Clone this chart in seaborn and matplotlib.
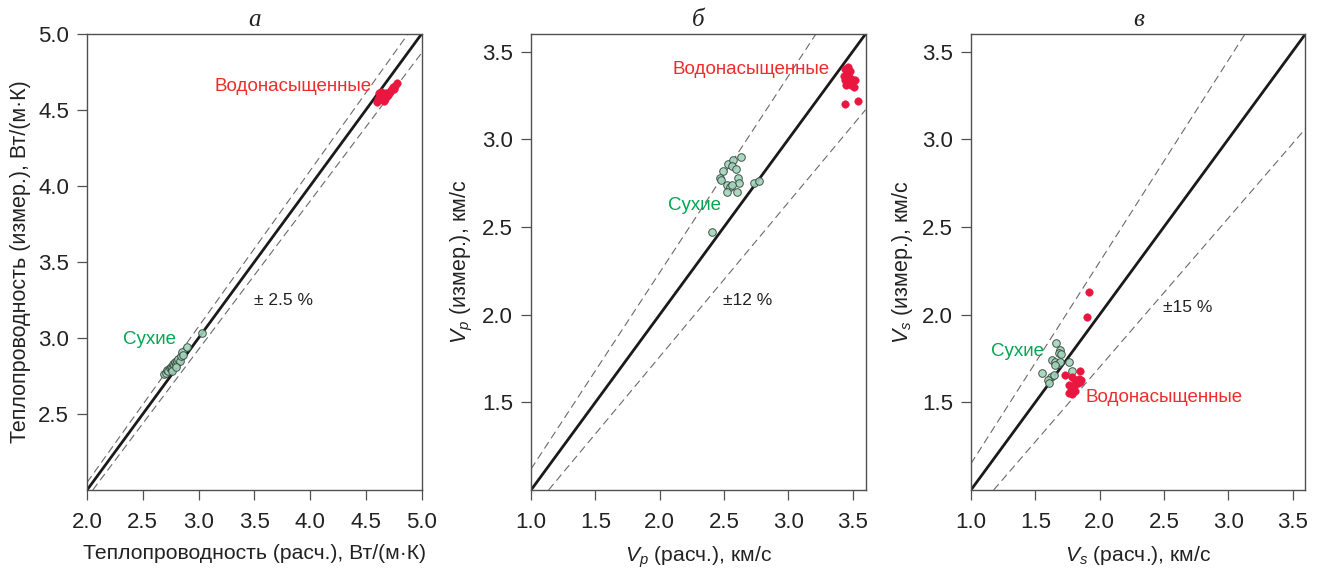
import matplotlib
matplotlib.use('Agg')
import matplotlib.pyplot as plt
import seaborn as sns
import pandas as pd

# (a) thermal conductivity, W/(m*K)
tc_dry_calc = [2.69, 2.71, 2.72, 2.73, 2.74, 2.75, 2.76, 2.77, 2.78, 2.79, 2.80,
               2.81, 2.82, 2.83, 2.84, 2.85, 2.86, 2.90, 3.03, 2.76, 2.80]
tc_dry_meas = [2.76, 2.77, 2.79, 2.78, 2.80, 2.81, 2.80, 2.83, 2.82, 2.84, 2.83,
               2.85, 2.86, 2.85, 2.88, 2.91, 2.89, 2.94, 3.03, 2.78, 2.81]
tc_wet_calc = [4.60, 4.61, 4.62, 4.63, 4.64, 4.65, 4.66, 4.66, 4.67, 4.68, 4.69,
               4.70, 4.71, 4.72, 4.73, 4.74, 4.75, 4.76, 4.78, 4.64, 4.62, 4.67]
tc_wet_meas = [4.55, 4.57, 4.58, 4.60, 4.59, 4.61, 4.58, 4.56, 4.60, 4.61, 4.59,
               4.60, 4.61, 4.62, 4.63, 4.65, 4.64, 4.66, 4.68, 4.62, 4.61, 4.57]

# (b) Vp, km/s
vp_dry_calc = [2.41, 2.53, 2.57, 2.63, 2.49, 2.47, 2.48, 2.56, 2.59, 2.61, 2.62,
               2.60, 2.52, 2.55, 2.52, 2.56, 2.73, 2.77]
vp_dry_meas = [2.47, 2.86, 2.88, 2.90, 2.82, 2.78, 2.77, 2.85, 2.83, 2.78, 2.75,
               2.70, 2.74, 2.73, 2.70, 2.74, 2.75, 2.76]
vp_wet_calc = [3.44, 3.47, 3.48, 3.43, 3.46, 3.44, 3.47, 3.50, 3.52, 3.45, 3.49,
               3.51, 3.44, 3.54, 3.46, 3.48]
vp_wet_meas = [3.40, 3.385, 3.39, 3.36, 3.36, 3.34, 3.33, 3.34, 3.34, 3.31, 3.31,
               3.30, 3.20, 3.22, 3.41, 3.35]

# (c) Vs, km/s
vs_dry_calc = [1.661, 1.695, 1.682, 1.70, 1.63, 1.656, 1.674, 1.695, 1.65, 1.765,
               1.552, 1.786, 1.625, 1.60, 1.61, 1.643]
vs_dry_meas = [1.838, 1.796, 1.78, 1.775, 1.74, 1.73, 1.72, 1.73, 1.71, 1.73,
               1.67, 1.68, 1.646, 1.625, 1.61, 1.656]
vs_wet_calc = [1.92, 1.905, 1.734, 1.848, 1.786, 1.81, 1.838, 1.858, 1.765, 1.80,
               1.83, 1.78, 1.81, 1.786, 1.765, 1.85]
vs_wet_meas = [2.13, 1.985, 1.656, 1.677, 1.646, 1.63, 1.635, 1.625, 1.60, 1.594,
               1.608, 1.573, 1.5625, 1.546, 1.552, 1.615]

panel_titles = ['а', 'б', 'в']
tolerances = [0.025, 0.12, 0.15]
tol_labels = ['± 2.5 %', '±12 %', '±15 %']
x_labels = ['Теплопроводность (расч.), Вт/(м·К)',
            '$V_p$ (расч.), км/с', '$V_s$ (расч.), км/с']
y_labels = ['Теплопроводность (измер.), Вт/(м·К)',
            '$V_p$ (измер.), км/с', '$V_s$ (измер.), км/с']
limits = [(2.0, 5.0), (1.0, 3.6), (1.0, 3.6)]
x_ticks = [[2.0, 2.5, 3.0, 3.5, 4.0, 4.5, 5.0],
           [1.0, 1.5, 2.0, 2.5, 3.0, 3.5],
           [1.0, 1.5, 2.0, 2.5, 3.0, 3.5]]
y_ticks = [[2.5, 3.0, 3.5, 4.0, 4.5, 5.0],
           [1.5, 2.0, 2.5, 3.0, 3.5],
           [1.5, 2.0, 2.5, 3.0, 3.5]]
group_names = ['Сухие', 'Водонасыщенные']
# label anchor positions (data coords) per panel: dry, wet, tolerance
dry_label_pos = [(2.80, 2.99, 'right'), (2.48, 2.62, 'right'), (1.565, 1.79, 'right')]
wet_label_pos = [(4.555, 4.655, 'right'), (3.32, 3.395, 'right'), (1.89, 1.527, 'left')]
tol_label_pos = [(3.50, 3.25), (2.49, 2.08), (2.49, 2.04)]

sets = [(tc_dry_calc, tc_dry_meas, tc_wet_calc, tc_wet_meas),
        (vp_dry_calc, vp_dry_meas, vp_wet_calc, vp_wet_meas),
        (vs_dry_calc, vs_dry_meas, vs_wet_calc, vs_wet_meas)]

sns.set_theme(style='ticks')
plt.rcParams['font.family'] = ['Liberation Sans', 'DejaVu Sans']
plt.rcParams['mathtext.fontset'] = 'custom'
plt.rcParams['mathtext.it'] = 'Liberation Sans:italic'
plt.rcParams['mathtext.rm'] = 'Liberation Sans'

GREEN_FACE = '#a2d4bb'
GREEN_TEXT = '#00a650'
RED = '#e9163f'
RED_TEXT = '#ef2b2d'
SPINE = '#505050'
TEXT = '#222222'

fig = plt.figure(figsize=(13.21, 5.68), dpi=100)
lefts = [0.0659, 0.402, 0.735]

for i in range(3):
    ax = fig.add_axes([lefts[i], 0.1373, 0.2532, 0.8028])
    dc, dm, wc, wm = sets[i]
    df = pd.DataFrame({
        'calc': dc + wc,
        'meas': dm + wm,
        'group': [group_names[0]] * len(dc) + [group_names[1]] * len(wc),
    })
    lo, hi = limits[i]
    tol = tolerances[i]

    ax.axline((lo, lo), slope=1, color='#1a1a1a', lw=2.0, zorder=2)
    ax.axline((lo, lo * (1 + tol)), slope=1 + tol, color='#6a6a6a', lw=0.8,
              ls=(0, (7, 4)), zorder=1)
    ax.axline((lo, lo * (1 - tol)), slope=1 - tol, color='#6a6a6a', lw=0.8,
              ls=(0, (7, 4)), zorder=1)

    sns.scatterplot(data=df[df['group'] == group_names[0]], x='calc', y='meas',
                    ax=ax, color=GREEN_FACE, edgecolor='#34423a', linewidth=0.7,
                    s=30, alpha=0.9, zorder=3, legend=False)
    sns.scatterplot(data=df[df['group'] == group_names[1]], x='calc', y='meas',
                    ax=ax, color=RED, edgecolor=RED, linewidth=0.3,
                    s=30, zorder=3, legend=False)

    x, y, ha = dry_label_pos[i]
    ax.text(x, y, group_names[0], color=GREEN_TEXT, fontsize=13.5, ha=ha, va='center')
    x, y, ha = wet_label_pos[i]
    ax.text(x, y, group_names[1], color=RED_TEXT, fontsize=13.5, ha=ha, va='center')
    x, y = tol_label_pos[i]
    ax.text(x, y, tol_labels[i], color=TEXT, fontsize=12.5, ha='left', va='center')

    ax.set_xlim(lo, hi)
    ax.set_ylim(lo, hi)
    ax.set_xticks(x_ticks[i])
    ax.set_yticks(y_ticks[i])
    ax.set_xticklabels([f'{t:.1f}' for t in x_ticks[i]])
    ax.set_yticklabels([f'{t:.1f}' for t in y_ticks[i]])
    ax.tick_params(axis='both', direction='out', length=7, width=0.9,
                   color=SPINE, labelsize=16, labelcolor=TEXT)
    ax.tick_params(axis='x', pad=9)
    ax.tick_params(axis='y', pad=6)
    for sp in ax.spines.values():
        sp.set_visible(True)
        sp.set_color(SPINE)
        sp.set_linewidth(1.0)

    ax.set_xlabel(x_labels[i], fontsize=15.2, color=TEXT, labelpad=8)
    ax.set_ylabel(y_labels[i], fontsize=15.5, color=TEXT, labelpad=5)
    ax.set_title(panel_titles[i], fontsize=18, style='italic', color=TEXT,
                 family=['Liberation Serif', 'DejaVu Serif'], pad=6)

fig.savefig('out.png', dpi=100)
